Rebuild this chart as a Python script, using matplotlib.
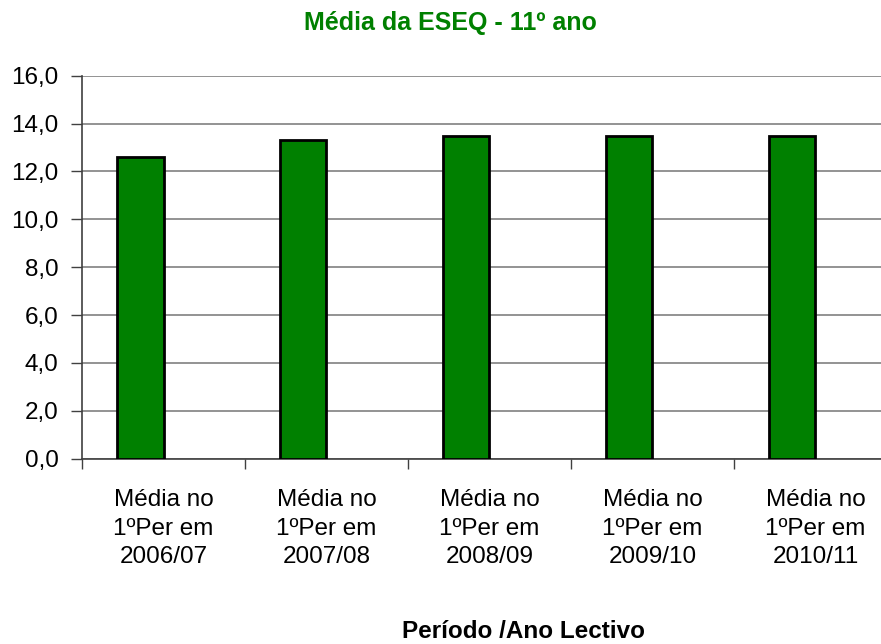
import numpy as np
import matplotlib
matplotlib.use('Agg')
import matplotlib.pyplot as plt
from matplotlib.ticker import FuncFormatter, FixedLocator

plt.rcParams['font.family'] = ['Liberation Sans', 'DejaVu Sans']

# dados
categorias = ['Média no\n1ºPer em\n2006/07', 'Média no\n1ºPer em\n2007/08',
              'Média no\n1ºPer em\n2008/09', 'Média no\n1ºPer em\n2009/10',
              'Média no\n1ºPer em\n2010/11']
medias = [12.6, 13.3, 13.5, 13.5, 13.5]
y_ticks = [0, 2, 4, 6, 8, 10, 12, 14, 16]

fig = plt.figure(figsize=(8.81, 6.44), dpi=100)
ax = fig.add_axes([0.0931, 0.2877, 0.925, 0.5948])

x = np.arange(len(categorias))
ax.bar(x - 0.285, medias, width=0.285, align='edge', color='#008000',
       edgecolor='black', linewidth=2, zorder=3)

ax.set_xlim(-0.5, len(categorias) - 0.5)
ax.set_ylim(0, 16)
ax.yaxis.set_major_locator(FixedLocator(y_ticks))
ax.yaxis.set_major_formatter(FuncFormatter(lambda v, p: ('%.1f' % v).replace('.', ',')))
ax.set_xticks(x)
ax.set_xticklabels(categorias, fontsize=17.5, linespacing=1.38)
ax.set_xticks(np.arange(len(categorias) + 1) - 0.5, minor=True)
ax.tick_params(axis='x', which='major', length=0, pad=22)
ax.tick_params(axis='x', which='minor', length=7, width=1, color='#404040')
ax.tick_params(axis='y', length=8, width=1, color='#404040', labelsize=17.5, pad=9)

ax.grid(axis='y', color='#808080', linewidth=1.2, zorder=0)
ax.set_axisbelow(True)
for s in ('top', 'right'):
    ax.spines[s].set_visible(False)
for s in ('left', 'bottom'):
    ax.spines[s].set_color('#404040')
    ax.spines[s].set_linewidth(1.2)

fig.text(0.511, 0.965, 'Média da ESEQ - 11º ano', color='#008000',
         fontsize=18, fontweight='bold', ha='center', va='center')
fig.text(0.594, 0.0195, 'Período /Ano Lectivo', color='black',
         fontsize=17.5, fontweight='bold', ha='center', va='center')

fig.savefig('out.png', dpi=100)
